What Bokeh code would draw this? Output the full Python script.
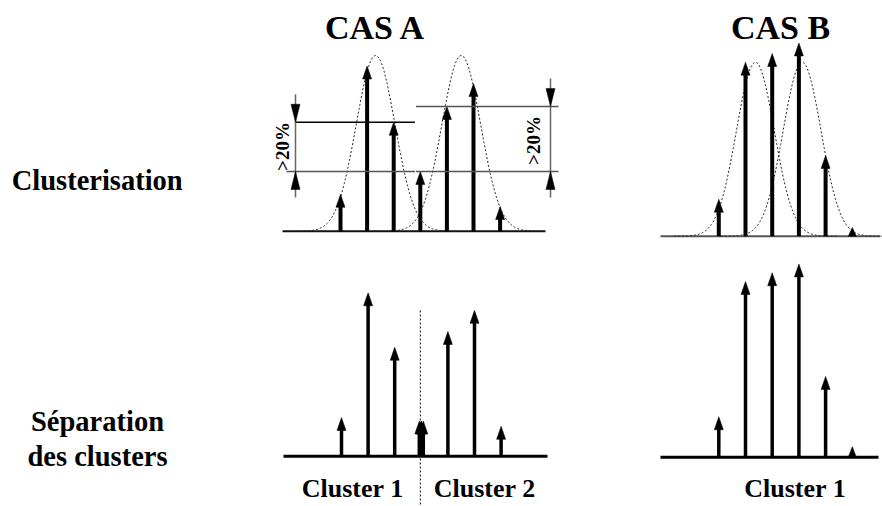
import numpy as np
from bokeh.plotting import figure
from bokeh.models import Range1d
from bokeh.core.properties import value
from bokeh.embed import file_html
from bokeh.resources import INLINE

# ---------------- data ----------------
titles = ["CAS A", "CAS B"]
row_label_top = ["Clusterisation"]
row_label_bottom = ["Séparation", "des clusters"]
cluster_labels_a = ["Cluster 1", "Cluster 2"]
cluster_labels_b = ["Cluster 1"]
diff_label = ">20%"

# relative peak intensities (top row: raw signal)
cas_a_intensity = [21, 94, 62, 34, 71, 84, 14]
cas_b_intensity = [21, 99, 104, 110, 46, 5]
# gaussian envelopes (centre in peak-index units, height in intensity units)
cas_a_gauss_center = [1.32, 4.54]
cas_a_gauss_height = [100, 100]
cas_b_gauss_center = [1.37, 3.12]
cas_b_gauss_height = [99, 99]
gauss_sigma = [0.73, 0.71]
# bottom row: separated clusters
cas_a_cluster1_index = [0, 1, 2, 3]
cas_a_cluster1 = [22, 93, 62, 20]
cas_a_cluster2_index = [3, 4, 5, 6]
cas_a_cluster2 = [20, 71, 83, 17]
cas_b_cluster1_index = [0, 1, 2, 3, 4, 5]
cas_b_cluster1 = [23, 100, 105, 110, 46, 6]
# differences marked with the >20% dimension arrows (peak indices)
cas_a_diff_left = [2, 3]
cas_a_diff_right = [4, 3]

# ---------------- layout ----------------
W, H = 882, 506
S = 1.757          # px per intensity unit
HEAD_L, HEAD_W = 13, 9
FONT = value("Liberation Serif")

p = figure(width=W, height=H, x_range=Range1d(0, W), y_range=Range1d(0, H),
           output_backend="svg", toolbar_location=None, min_border=0)
p.axis.visible = False
p.grid.visible = False
p.outline_line_color = None
p.background_fill_color = "white"


def Y(yi):
    return H - np.asarray(yi, dtype=float)


panels = {
    "a_top": dict(x0=340.0, dx=26.6, base=230.7, xl=282, xr=545),
    "b_top": dict(x0=718.3, dx=26.7, base=235.7, xl=660, xr=880),
    "a_bot": dict(x0=341.0, dx=26.6, base=455.7, xl=283, xr=547),
    "b_bot": dict(x0=718.3, dx=26.7, base=456.7, xl=660, xr=878),
}


def sticks(panel, idx, vals, lw=4, offset=0.0):
    g = panels[panel]
    xs = [g["x0"] + i * g["dx"] + offset for i in idx]
    sx0, sy0, sx1, sy1 = [], [], [], []
    hx, hy = [], []
    for x, v in zip(xs, vals):
        h = v * S
        top = g["base"] - h
        L = min(HEAD_L, h)
        w = HEAD_W if h >= HEAD_L else HEAD_W * 0.9
        if h > L + 0.5:
            sx0.append(x); sx1.append(x)
            sy0.append(float(Y(g["base"]))); sy1.append(float(Y(top + L - 1)))
        hx.append([x - w / 2, x, x + w / 2])
        hy.append(list(Y([top + L, top, top + L])))
    if sx0:
        p.segment(sx0, sy0, sx1, sy1, line_width=lw, line_color="black", line_cap="butt")
    p.patches(hx, hy, fill_color="black", line_color="black", line_width=0.5)


def baseline(panel, color, lw):
    g = panels[panel]
    p.line([g["xl"], g["xr"]], list(Y([g["base"], g["base"]])), line_color=color, line_width=lw)


def gauss(panel, centers, heights, sigma):
    g = panels[panel]
    for c, hgt in zip(centers, heights):
        t = np.linspace(c - 4.3 * sigma, c + 4.3 * sigma, 240)
        x = g["x0"] + t * g["dx"]
        y = g["base"] - hgt * S * np.exp(-0.5 * ((t - c) / sigma) ** 2)
        p.line(x, Y(y), line_color="#222222", line_width=1, line_dash="2 2")


def dimension(x, y_hi, y_lo, color="#666666"):
    p.line([x, x], list(Y([y_hi - 28, y_lo + 26])), line_color=color, line_width=1.5)
    L, w = 18, 9
    p.patches([[x - w / 2, x, x + w / 2], [x - w / 2, x, x + w / 2]],
              [list(Y([y_hi - L, y_hi, y_hi - L])), list(Y([y_lo + L, y_lo, y_lo + L]))],
              fill_color="black", line_color="black", line_width=0.5)


# ---- top row ----
baseline("a_top", "#111111", 2)
baseline("b_top", "#555555", 2)
gauss("a_top", cas_a_gauss_center, cas_a_gauss_height, gauss_sigma[0])
gauss("b_top", cas_b_gauss_center, cas_b_gauss_height, gauss_sigma[1])
sticks("a_top", range(len(cas_a_intensity)), cas_a_intensity)
sticks("b_top", range(len(cas_b_intensity)), cas_b_intensity)

# >20% reference lines and dimension arrows (case A)
ga = panels["a_top"]
split_x = ga["x0"] + 2.8 * ga["dx"]
yl_hi = ga["base"] - cas_a_intensity[cas_a_diff_left[0]] * S
yl_lo = ga["base"] - cas_a_intensity[cas_a_diff_left[1]] * S
yr_hi = ga["base"] - cas_a_intensity[cas_a_diff_right[0]] * S
yr_lo = ga["base"] - cas_a_intensity[cas_a_diff_right[1]] * S
xdl, xdr = 295, 550
p.line([xdl, split_x], list(Y([yl_hi, yl_hi])), line_color="black", line_width=1.3)
p.line([xdl - 9, split_x], list(Y([yl_lo, yl_lo])), line_color="#555555", line_width=1.5)
p.line([split_x + 1, 558], list(Y([yr_hi, yr_hi])), line_color="#555555", line_width=1.5)
p.line([split_x + 1, 558], list(Y([yr_lo, yr_lo])), line_color="#555555", line_width=1.5)
dimension(xdl, yl_hi, yl_lo)
dimension(xdr, yr_hi, yr_lo)
p.text([282.3, 533.3], list(Y([146, 140])), text=[diff_label, diff_label], angle=np.pi / 2,
       text_font=FONT, text_font_style="bold", text_font_size="19px",
       text_align="center", text_baseline="middle", text_color="black")

# ---- bottom row ----
baseline("a_bot", "black", 3)
baseline("b_bot", "black", 3)
sticks("a_bot", cas_a_cluster1_index, cas_a_cluster1, lw=3.5, offset=0)
sticks("a_bot", cas_a_cluster2_index, cas_a_cluster2, lw=3.5, offset=0)
# overlapping shared peak drawn slightly apart so both arrows show
sticks("a_bot", [cas_a_cluster1_index[-1]], [cas_a_cluster1[-1]], lw=3.5, offset=-2)
sticks("a_bot", [cas_a_cluster2_index[0]], [cas_a_cluster2[0]], lw=3.5, offset=2)
gb = panels["a_bot"]
sep_x = gb["x0"] + 3 * gb["dx"] - 1
p.line([sep_x, sep_x], list(Y([310, 506])), line_color="black", line_width=1, line_dash="2 2")
sticks("b_bot", cas_b_cluster1_index, cas_b_cluster1, lw=3.5)

# ---- texts ----
p.text([375, 780], list(Y([26.7, 26.7])), text=titles, text_font=FONT, text_font_style="bold",
       text_font_size="34px", text_align="center", text_baseline="alphabetic", text_color="black")
p.text([96.7], list(Y([180])), text=row_label_top, text_font=FONT, text_font_style="bold",
       text_font_size="28.5px", text_align="center", text_baseline="alphabetic", text_color="black")
p.text([97, 97], list(Y([421, 456])), text=row_label_bottom, text_font=FONT, text_font_style="bold",
       text_font_size="28.5px", text_align="center", text_baseline="alphabetic", text_color="black")
p.text([352.2, 484.2], list(Y([488.3, 488.3])), text=cluster_labels_a, text_font=FONT,
       text_font_style="bold", text_font_size="26px", text_align="center",
       text_baseline="alphabetic", text_color="black")
p.text([794.7], list(Y([488.3])), text=cluster_labels_b, text_font=FONT,
       text_font_style="bold", text_font_size="26px", text_align="center",
       text_baseline="alphabetic", text_color="black")

open("out.html", "w").write(file_html(p, INLINE))
